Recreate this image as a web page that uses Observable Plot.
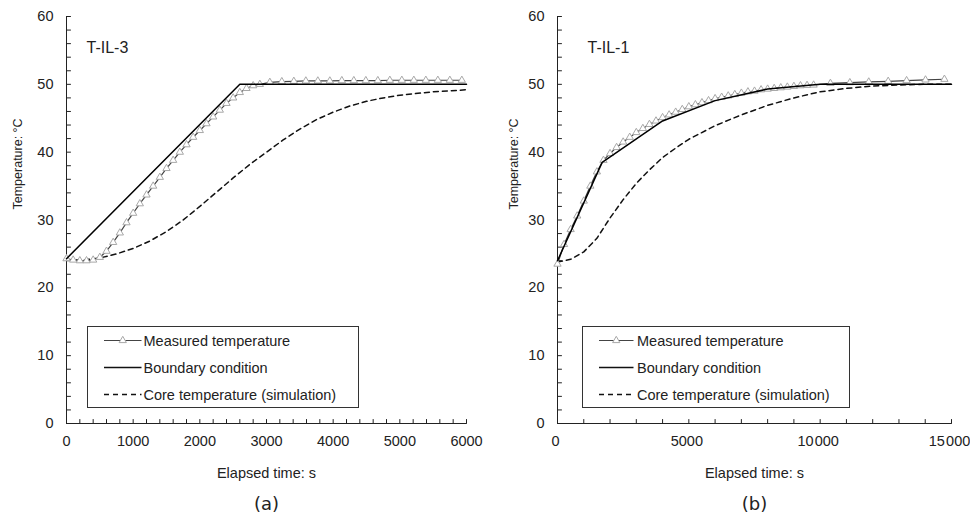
<!DOCTYPE html>
<html><head><meta charset="utf-8">
<script src="https://cdn.jsdelivr.net/npm/d3@7"></script>
<script src="https://cdn.jsdelivr.net/npm/@observablehq/plot@0.6"></script>
<style>
body{margin:0;background:#fff}
#wrap{display:flex;width:970px;height:524px;overflow:hidden}
</style>
</head><body><div id="wrap"></div>
<script>
// ---------- Panel (a) T-IL-3 ----------
const measuredTimeA = [0,100,200,300,400,500,600,700,800,900,1000,1100,1200,1300,1400,1500,1600,1700,1800,1900,2000,2100,2200,2300,2400,2500,2600,2700,2800,2900,
  3050,3230,3410,3590,3770,3950,4130,4310,4490,4670,4850,5030,5210,5390,5570,5750,5930];
const measuredTempA = [24.3,24.1,24.0,24.0,24.1,24.5,25.4,26.7,28.1,29.6,31.0,32.4,33.7,35.0,36.3,37.6,38.8,40.0,41.1,42.2,43.2,44.2,45.2,46.2,47.2,48.0,48.8,49.4,49.8,50.0,
  50.3,50.4,50.45,50.5,50.5,50.5,50.55,50.55,50.55,50.55,50.6,50.6,50.6,50.6,50.6,50.6,50.6];
const boundaryTimeA = [0,2600,6000];
const boundaryTempA = [24.3,50.0,50.0];
const coreTimeA = [0,250,500,750,1000,1250,1500,1750,2000,2250,2500,2750,3000,3250,3500,3750,4000,4250,4500,4750,5000,5500,6000];
const coreTempA = [24.1,24.1,24.4,25.0,25.8,26.9,28.3,30.0,32.0,34.1,36.2,38.2,40.0,41.8,43.4,44.8,45.9,46.8,47.5,48.0,48.4,48.9,49.2];

// ---------- Panel (b) T-IL-1 ----------
const measuredTimeB = [0,250,500,750,1000,1250,1500,1750,2000,2250,2500,2750,3000,3250,3500,3750,4000,4250,4500,4750,5000,5250,5500,5750,6000,6250,6500,6750,7000,7250,7500,7750,8000,8250,8500,8750,9000,9250,9500,9750,
  10390,11130,11850,12590,13290,14010,14730];
const measuredTempB = [23.5,26.4,28.6,30.6,32.8,35.0,37.1,38.8,39.8,40.7,41.5,42.2,42.9,43.5,44.1,44.6,45.1,45.5,45.9,46.3,46.7,47.0,47.3,47.6,47.9,48.1,48.3,48.5,48.7,48.9,49.0,49.2,49.3,49.4,49.5,49.6,49.7,49.8,49.85,49.9,
  50.15,50.25,50.35,50.45,50.55,50.65,50.75];
const boundaryTimeB = [0,1700,4000,6000,8000,10000,15000];
const boundaryTempB = [24.0,38.5,44.6,47.6,49.3,50.0,50.0];
const coreTimeB = [0,500,1000,1500,2000,2500,3000,3500,4000,4500,5000,6000,7000,8000,9000,10000,11000,12000,13000,14000,15000];
const coreTempB = [23.8,24.2,25.3,27.3,30.3,33.0,35.4,37.4,39.2,40.6,41.9,43.9,45.5,46.9,48.0,48.9,49.4,49.75,49.9,50.0,50.0];

// ---------- Ticks & labels ----------
const yMajorTicks = [0,10,20,30,40,50,60];
const yMinorTicks = d3.range(0, 61, 2);
const xMajorTicksA = [0,1000,2000,3000,4000,5000,6000];
const xMinorTicksA = d3.range(0, 6001, 200);
const xMajorTicksB = [0,5000,10000,15000];
const xMinorTicksB = d3.range(0, 15001, 1000);
const legendLabels = ["Measured temperature","Boundary condition","Core temperature (simulation)"];
const xLabel = "Elapsed time: s";
const yLabel = "Temperature: °C";

const zip = (ts, vs) => ts.map((t, i) => ({t, v: vs[i]}));
const tickShape = {draw(context, l) { context.moveTo(0, 0); context.lineTo(0, -l); }};

function panel(cfg) {
  const meas = zip(cfg.mt, cfg.mv);
  const bound = zip(cfg.bt, cfg.bv);
  const core = zip(cfg.ct, cfg.cv);
  const axisColor = "#222";
  const svg = Plot.plot({
    width: 485, height: 524,
    marginLeft: cfg.ml, marginRight: 19, marginTop: 16, marginBottom: 101,
    x: {domain: cfg.xDomain},
    y: {domain: [0, 60]},
    style: {fontFamily: "'Liberation Sans', Arial, sans-serif", fontSize: "14.5px", color: "#222", background: "white", overflow: "visible"},
    marks: [
      Plot.ruleX([cfg.xDomain[0]], {stroke: axisColor, strokeWidth: 1}),
      Plot.ruleY([0], {stroke: axisColor, strokeWidth: 1}),
      Plot.vector(cfg.xMinor, {x: d => d, frameAnchor: "bottom", length: 4, rotate: 0, anchor: "start", shape: tickShape, stroke: axisColor, strokeWidth: 1}),
      Plot.vector(yMinorTicks, {y: d => d, frameAnchor: "left", length: 4, rotate: 90, anchor: "start", shape: tickShape, stroke: axisColor, strokeWidth: 1}),
      Plot.axisX({ticks: cfg.xMajor, tickSize: 0, tickPadding: 12, tickFormat: cfg.fmt, dx: cfg.xLabDx, label: null}),
      Plot.axisY({ticks: yMajorTicks, tickSize: 0, tickPadding: 13, label: null}),
      Plot.line(core, {x: "t", y: "v", stroke: "#111", strokeWidth: 1.5, strokeDasharray: "5,4"}),
      Plot.line(meas, {x: "t", y: "v", stroke: "#444", strokeWidth: 1.2}),
      Plot.dot(meas, {x: "t", y: "v", symbol: "triangle", r: 2.7, fill: "white", stroke: "#a8a8a8", strokeWidth: 1}),
      Plot.line(bound, {x: "t", y: "v", stroke: "#000", strokeWidth: 1.5}),
      Plot.text([cfg.tag], {text: d => d, frameAnchor: "top-left", dx: cfg.tagDx, dy: 25, textAnchor: "start", fontSize: 16}),
      Plot.text([xLabel], {text: d => d, frameAnchor: "bottom", dy: 54}),
      Plot.text([cfg.caption], {text: d => d, frameAnchor: "bottom", dy: 86, fontSize: 18, fontFamily: "'DejaVu Sans', Verdana, sans-serif"}),
      Plot.text([yLabel], {text: d => d, frameAnchor: "left", rotate: -90, dx: cfg.ylDx, dy: -10.5, fontSize: 12.5})
    ]
  });
  // legend box
  const L = cfg.legend;
  const g = d3.select(svg).append("g")
    .attr("font-family", "'Liberation Sans', Arial, sans-serif").attr("font-size", "14.5px")
    .attr("text-anchor", "start");
  g.append("rect").attr("x", L.x).attr("y", L.y).attr("width", L.w).attr("height", L.h)
    .attr("fill", "white").attr("stroke", "#333").attr("stroke-width", 1);
  const rows = [L.y + 14, L.y + 41, L.y + 68];
  legendLabels.forEach((lab, i) => {
    const yy = rows[i];
    const line = g.append("line").attr("x1", L.sx1).attr("x2", L.sx2).attr("y1", yy).attr("y2", yy)
      .attr("stroke", i === 0 ? "#444" : "#111").attr("stroke-width", i === 0 ? 1.2 : 1.3);
    if (i === 2) line.attr("stroke-dasharray", "5,4");
    if (i === 0) {
      g.append("path").attr("d", d3.symbol(d3.symbolTriangle, Math.PI * 2.7 * 2.7)())
        .attr("transform", `translate(${(L.sx1 + L.sx2) / 2},${yy})`)
        .attr("fill", "white").attr("stroke", "#a8a8a8");
    }
    g.append("text").attr("x", L.tx).attr("y", yy).attr("dy", "0.35em")
      .attr("text-anchor", "start").attr("fill", "#222").text(lab);
  });
  return svg;
}

const wrap = document.getElementById("wrap");
wrap.append(panel({
  mt: measuredTimeA, mv: measuredTempA, bt: boundaryTimeA, bv: boundaryTempA, ct: coreTimeA, cv: coreTempA,
  xDomain: [0, 6000], xMajor: xMajorTicksA, xMinor: xMinorTicksA, fmt: d => String(d), xLabDx: 0,
  ml: 66, tag: "T-IL-3", tagDx: 20, caption: "(a)", ylDx: -48.5,
  legend: {x: 87.5, y: 326.5, w: 271, h: 81, sx1: 104, sx2: 141.5, tx: 143.5}
}));
wrap.append(panel({
  mt: measuredTimeB, mv: measuredTempB, bt: boundaryTimeB, bv: boundaryTempB, ct: coreTimeB, cv: coreTempB,
  xDomain: [0, 15000], xMajor: xMajorTicksB, xMinor: xMinorTicksB, xLabDx: -2,
  fmt: d => d >= 10000 ? String(d).slice(0, 2) + "\u200A" + String(d).slice(2) : String(d),
  ml: 72, tag: "T-IL-1", tagDx: 30, caption: "(b)", ylDx: -44,
  legend: {x: 97.5, y: 326.5, w: 267, h: 81, sx1: 114, sx2: 148.5, tx: 152}
}));
</script>
</body></html>
